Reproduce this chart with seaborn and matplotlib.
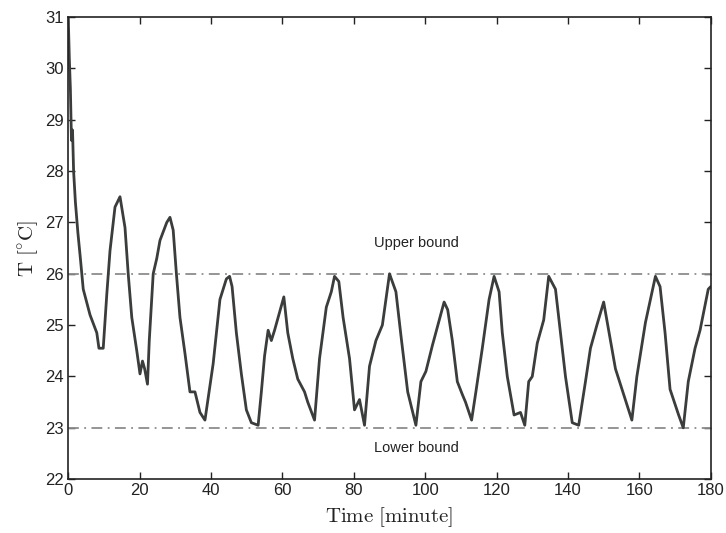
import matplotlib
matplotlib.use("Agg")
import matplotlib.pyplot as plt
import numpy as np
import pandas as pd
import seaborn as sns

# temperature trace (minutes, deg C)
time_min = [0, 0.3, 0.6, 0.9, 1.2, 1.5, 2.0, 2.7, 3.4, 4.2, 6.1, 8.0, 8.6, 9.8,
            10.8, 11.7, 13.1, 14.5, 15.9, 16.8, 17.8, 19.2, 20.1, 20.8, 21.4,
            22.2, 22.7, 23.8, 24.8, 25.7, 27.6, 28.5, 29.4, 30.3, 31.3, 32.7,
            34.1, 35.5, 36.9, 38.3, 40.6, 42.5, 44.3, 45.2, 45.9, 47.1, 48.5,
            49.9, 51.3, 53.2, 54.1, 55.0, 56.0, 56.9, 57.8, 59.2, 60.4, 61.5,
            62.9, 64.3, 66.2, 67.1, 69.0, 70.4, 72.3, 73.7, 74.6, 75.8, 77.0,
            78.8, 80.2, 81.6, 83.0, 84.4, 86.2, 88.0, 90.0, 91.8, 93.2, 95.1,
            97.4, 98.8, 100.2, 102.0, 105.3, 106.3, 107.6, 109.0, 110.4, 111.3,
            113.0, 114.2, 116.0, 117.9, 119.3, 120.7, 121.6, 123.0, 124.9,
            126.7, 127.9, 129.0, 130.0, 131.4, 133.2, 134.6, 136.5, 137.9,
            139.3, 141.2, 143.0, 144.9, 146.3, 148.1, 150.0, 151.4, 153.3,
            155.6, 157.9, 159.3, 161.7, 164.5, 165.8, 167.2, 168.6, 171.0,
            172.3, 173.7, 175.6, 177.0, 179.3, 180.0]
temp_c = [31.0, 30.2, 29.6, 28.6, 28.8, 28.0, 27.4, 26.8, 26.3, 25.7, 25.2, 24.85,
          24.55, 24.55, 25.6, 26.45, 27.3, 27.5, 26.9, 26.0, 25.15, 24.5, 24.05,
          24.3, 24.15, 23.85, 24.7, 26.0, 26.3, 26.65, 27.0, 27.1, 26.85, 26.0,
          25.15, 24.45, 23.7, 23.7, 23.3, 23.15, 24.25, 25.5, 25.9, 25.95, 25.75,
          24.85, 24.05, 23.35, 23.1, 23.05, 23.7, 24.4, 24.9, 24.7, 24.9, 25.25,
          25.55, 24.85, 24.35, 23.95, 23.7, 23.5, 23.15, 24.35, 25.35, 25.65,
          25.95, 25.85, 25.15, 24.35, 23.35, 23.55, 23.05, 24.2, 24.7, 25.0,
          26.0, 25.65, 24.8, 23.7, 23.05, 23.9, 24.1, 24.6, 25.45, 25.3, 24.7,
          23.9, 23.65, 23.5, 23.15, 23.7, 24.55, 25.5, 25.95, 25.65, 24.85,
          24.0, 23.25, 23.3, 23.05, 23.9, 24.0, 24.65, 25.1, 25.95, 25.7, 24.85,
          24.0, 23.1, 23.05, 23.9, 24.55, 25.0, 25.45, 24.9, 24.15, 23.65,
          23.15, 24.0, 25.05, 25.95, 25.75, 24.85, 23.75, 23.25, 23.0, 23.9,
          24.55, 24.9, 25.7, 25.75]

bound_time = [0, 180]
upper_bound = 26.0
lower_bound = 23.0

x_ticks = [0, 20, 40, 60, 80, 100, 120, 140, 160, 180]
y_ticks = [22, 23, 24, 25, 26, 27, 28, 29, 30, 31]

df = pd.DataFrame({"time": time_min, "T": temp_c})

sns.set_style("ticks", {"xtick.direction": "in", "ytick.direction": "in",
                        "axes.edgecolor": "#222222"})
plt.rcParams["font.family"] = ["Liberation Sans", "DejaVu Sans"]
plt.rcParams["mathtext.fontset"] = "cm"

fig = plt.figure(figsize=(7.26, 5.33), dpi=100)
ax = fig.add_axes([0.094, 0.101, 0.885, 0.867])

for level in (upper_bound, lower_bound):
    ax.plot(bound_time, [level, level], color="#8c8c8c", lw=1.3,
            ls=(0, (6, 3, 1, 3)), zorder=1)

sns.lineplot(data=df, x="time", y="T", ax=ax, color="#3a3d3b", lw=2.0,
             estimator=None, sort=False, zorder=2)

ax.text(97.5, 26.6, "Upper bound", ha="center", va="center", fontsize=10.5,
        color="#222222")
ax.text(97.5, 22.6, "Lower bound", ha="center", va="center", fontsize=10.5,
        color="#222222")

ax.set_xlim(0, 180)
ax.set_ylim(22, 31)
ax.set_xticks(x_ticks)
ax.set_yticks(y_ticks)
ax.tick_params(axis="both", labelsize=12, length=5, width=1, colors="#222222",
               top=True, right=True, pad=3)
for side in ax.spines.values():
    side.set_visible(True)
    side.set_linewidth(1.2)

ax.set_xlabel(r"$\mathrm{Time\ [minute]}$", fontsize=15, labelpad=5,
              color="#222222")
ax.set_ylabel(r"$\mathrm{T\ [^{\circ}C]}$", fontsize=15, labelpad=4,
              color="#222222")

fig.savefig("out.png", dpi=100, facecolor="white")
